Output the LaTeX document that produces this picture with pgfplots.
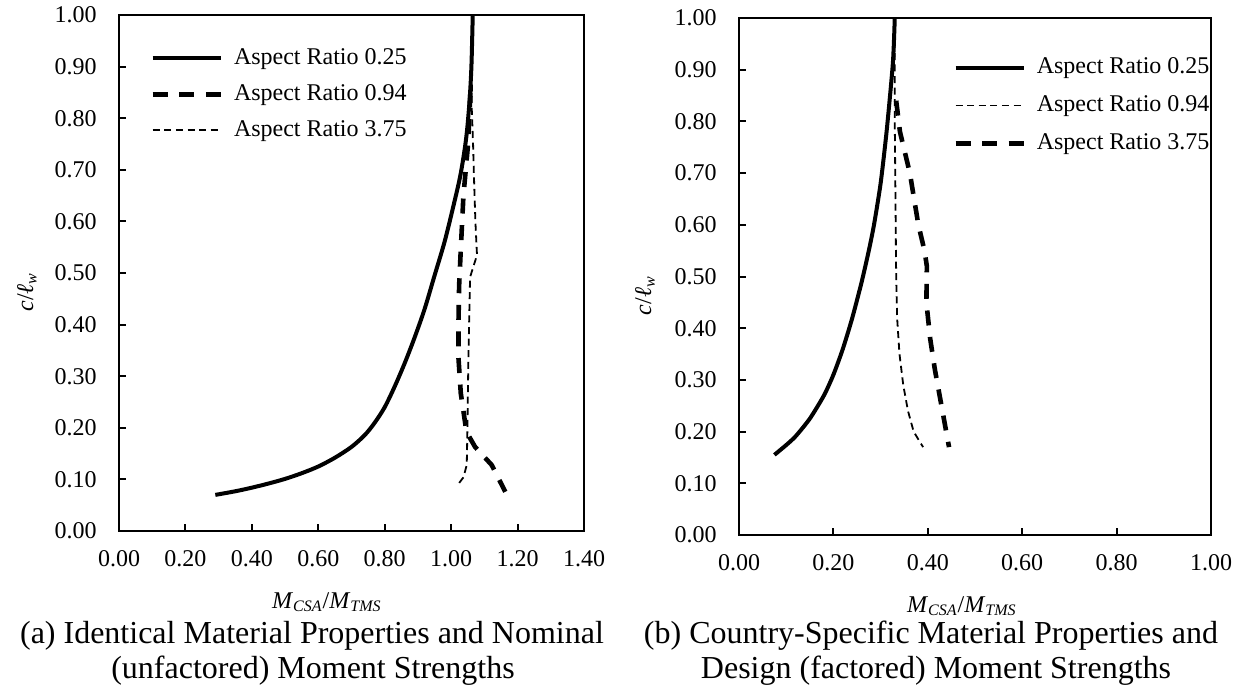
\documentclass[border=0pt]{standalone}
\usepackage{fontspec}
\setmainfont{Liberation Serif}
\usepackage{pgfplots}
\pgfplotsset{compat=1.18}
\begin{document}
\fontsize{12}{14}\selectfont
\begin{tikzpicture}
\useasboundingbox (0,0) rectangle (621pt,-343pt);
\pgfplotsset{
  solidline/.style={line width=2pt, black},
  thickdash/.style={line width=2.3pt, black, dash pattern=on 7.5pt off 5.8pt},
  finedash/.style={line width=0.9pt, black, dash pattern=on 3.5pt off 2.3pt},
  myaxis/.style={
    scale only axis,
    axis line style={line width=1.1pt},
    every tick/.style={line width=1pt, black},
    tick align=inside,
    major tick length=3.5pt,
    tick pos=left,
    ymin=0, ymax=1,
    ytick={0,0.1,0.2,0.3,0.4,0.5,0.6,0.7,0.8,0.9,1.0},
    ticklabel style={font=\fontsize{12}{14}\selectfont,
      /pgf/number format/fixed, /pgf/number format/fixed zerofill,
      /pgf/number format/precision=2, /pgf/number format/assume math mode=true},
    yticklabel style={xshift=-7pt},
    xticklabel style={yshift=-5.5pt},
    label style={font=\fontsize{13.5}{15}\selectfont, inner sep=0pt},
    xlabel={\textit{M}\textsubscript{\textit{CSA}}/\textit{M}\textsubscript{\textit{TMS}}},
    ylabel={\textit{c}/\textit{ℓ}\textsubscript{\textit{w}}},
    legend cell align=left,
    legend image code/.code={\draw[##1] (0pt,0pt) -- (34pt,0pt);},
  },
}
% ---------------- left ----------------
\begin{axis}[myaxis,
  at={(59.5pt,-265.5pt)}, anchor=south west,
  width=232.5pt, height=258pt,
  xmin=0, xmax=1.4, xtick={0,0.2,0.4,0.6,0.8,1.0,1.2,1.4},
  every axis x label/.style={at={(axis description cs:0.447,0)}, anchor=base, yshift=-38.5pt},
  every axis y label/.style={at={(axis description cs:-0.198,0.463)}, rotate=90, anchor=center},
  legend style={at={(axis description cs:0.0667,0.946)}, anchor=north west, draw=none, fill=none,
    inner sep=0pt, row sep=3pt, column sep=3.5pt,
    nodes={inner sep=2pt, text height=8.5pt, text depth=2.5pt, font=\fontsize{12}{14}\selectfont}},
]
\addplot[solidline, smooth, tension=0.5] coordinates {
(0.29,0.070) (0.35,0.077) (0.40,0.084) (0.45,0.092) (0.50,0.101) (0.55,0.112)
(0.60,0.125) (0.65,0.142) (0.70,0.163) (0.74,0.186) (0.77,0.210) (0.80,0.240)
(0.83,0.280) (0.86,0.325) (0.89,0.375) (0.92,0.430) (0.95,0.495) (0.98,0.560)
(1.005,0.625) (1.028,0.690) (1.045,0.760) (1.055,0.830) (1.061,0.900) (1.065,1.000)};
\addlegendentry{Aspect Ratio 0.25}
\addplot[thickdash] coordinates {
(1.058,0.850) (1.051,0.750) (1.037,0.650) (1.029,0.545) (1.024,0.475) (1.022,0.400)
(1.022,0.336) (1.029,0.267) (1.045,0.197) (1.048,0.190) (1.072,0.163) (1.122,0.128) (1.163,0.076)};
\addlegendentry{Aspect Ratio 0.94}
\addplot[finedash] coordinates {
(1.065,1.000) (1.063,0.900) (1.062,0.820) (1.066,0.750) (1.069,0.680) (1.073,0.600)
(1.077,0.545) (1.078,0.535) (1.057,0.492) (1.054,0.400) (1.052,0.336) (1.050,0.250)
(1.049,0.197) (1.047,0.128) (1.037,0.104) (1.017,0.087)};
\addlegendentry{Aspect Ratio 3.75}
\end{axis}
% ---------------- right ----------------
\begin{axis}[myaxis,
  at={(369.5pt,-267.5pt)}, anchor=south west,
  width=236pt, height=258.5pt,
  xmin=0, xmax=1, xtick={0,0.2,0.4,0.6,0.8,1.0},
  every axis x label/.style={at={(axis description cs:0.472,0)}, anchor=base, yshift=-38.5pt},
  every axis y label/.style={at={(axis description cs:-0.199,0.463)}, rotate=90, anchor=center},
  legend style={at={(axis description cs:0.453,0.934)}, anchor=north west, draw=none, fill=none,
    inner sep=0pt, row sep=4pt, column sep=3.5pt,
    nodes={inner sep=2pt, text height=8.5pt, text depth=2.5pt, font=\fontsize{12}{14}\selectfont}},
]
\addplot[solidline, smooth, tension=0.4] coordinates {
(0.075,0.155) (0.10,0.174) (0.12,0.191) (0.15,0.225) (0.18,0.270) (0.20,0.310)
(0.22,0.360) (0.24,0.420) (0.26,0.490) (0.275,0.550) (0.286,0.600) (0.300,0.680)
(0.313,0.783) (0.326,0.913) (0.330,1.000)};
\addlegendentry{Aspect Ratio 0.25}
\addplot[finedash] coordinates {
(0.330,1.000) (0.330,0.900) (0.330,0.800) (0.331,0.700) (0.332,0.600) (0.333,0.500)
(0.335,0.420) (0.340,0.350) (0.348,0.290) (0.358,0.240) (0.370,0.200) (0.390,0.170)};
\addlegendentry{Aspect Ratio 0.94}
\addplot[thickdash] coordinates {
(0.333,0.840) (0.341,0.780) (0.362,0.700) (0.380,0.600) (0.393,0.550) (0.398,0.520)
(0.397,0.450) (0.405,0.380) (0.415,0.320) (0.425,0.270) (0.435,0.220) (0.445,0.170)};
\addlegendentry{Aspect Ratio 3.75}
\end{axis}
% ---------------- captions ----------------
\node[anchor=base, inner sep=0pt, font=\fontsize{16}{19}\selectfont] at (156pt,-321.5pt) {(a) Identical Material Properties and Nominal};
\node[anchor=base, inner sep=0pt, font=\fontsize{16}{19}\selectfont] at (156.5pt,-339pt) {(unfactored) Moment Strengths};
\node[anchor=base, inner sep=0pt, font=\fontsize{16}{19}\selectfont] at (465.5pt,-321.5pt) {(b) Country-Specific Material Properties and};
\node[anchor=base, inner sep=0pt, font=\fontsize{16}{19}\selectfont] at (468pt,-339pt) {Design (factored) Moment Strengths};
\end{tikzpicture}
\end{document}
